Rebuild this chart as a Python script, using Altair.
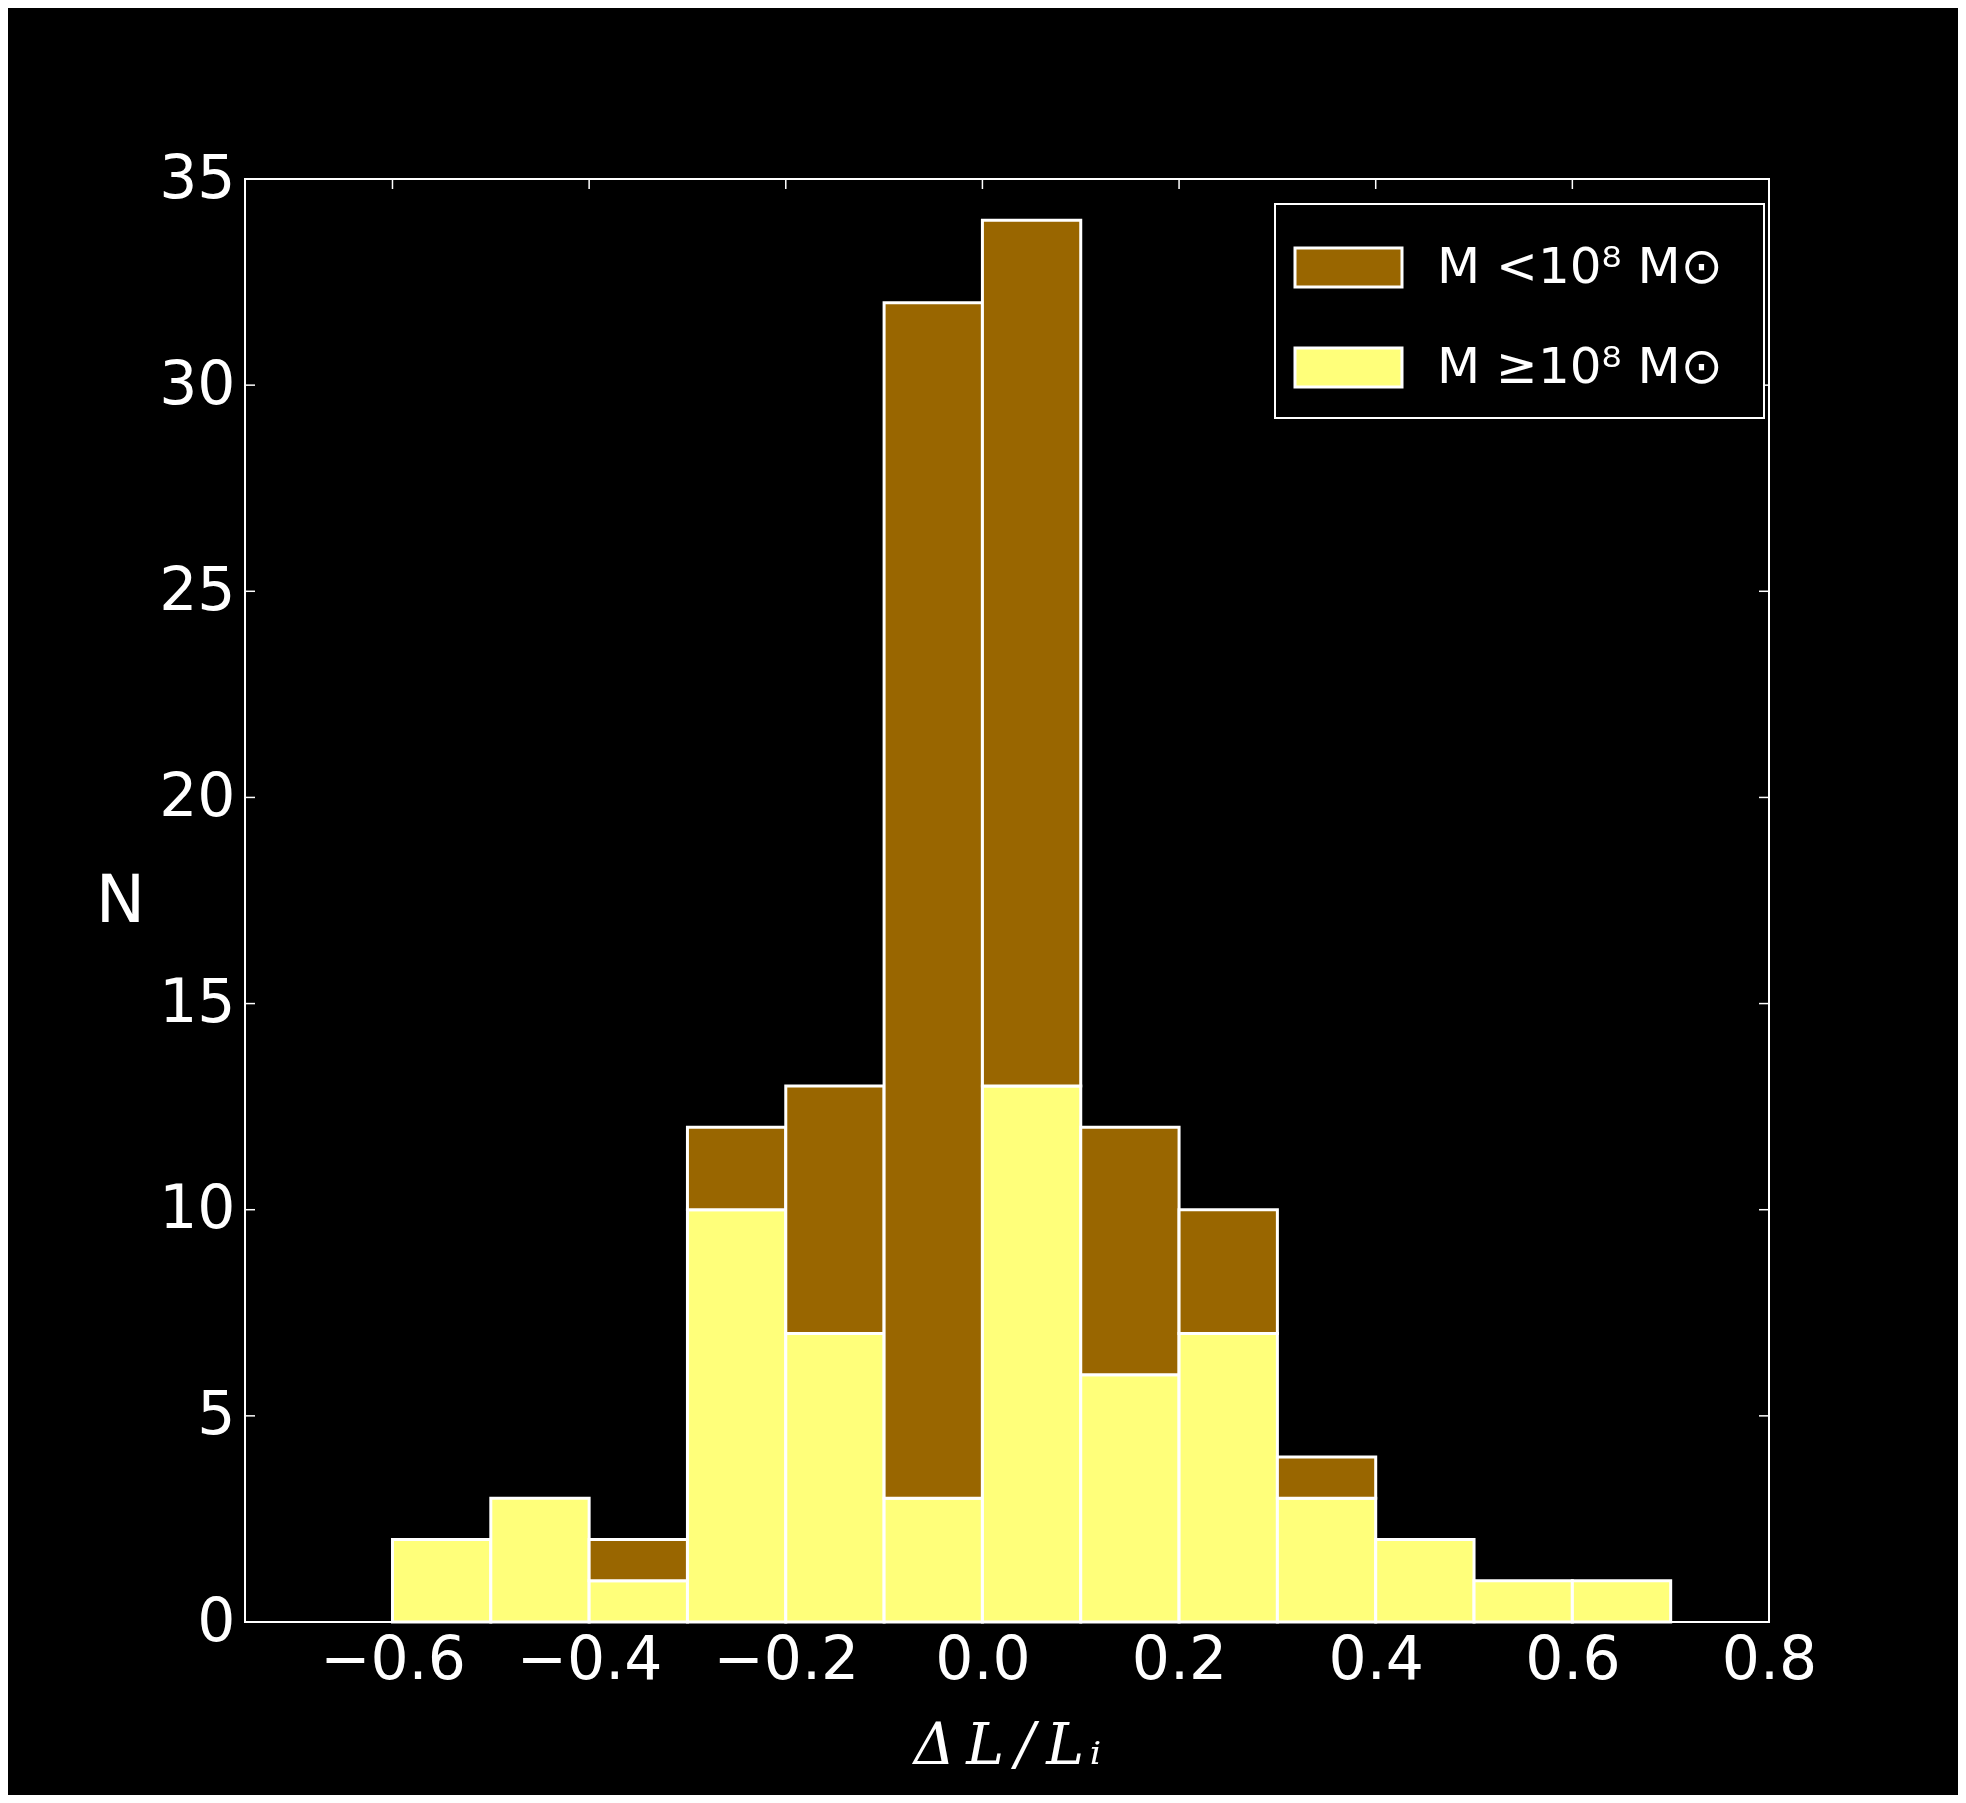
import altair as alt
import pandas as pd

# ---- data ----
bin_left = [-0.6, -0.5, -0.4, -0.3, -0.2, -0.1, 0.0, 0.1, 0.2, 0.3, 0.4, 0.5, 0.6]
bin_width = 0.1
high_mass = [2, 3, 1, 10, 7, 3, 13, 6, 7, 3, 2, 1, 1]      # M >= 1e8 Msun (yellow, bottom)
low_mass = [0, 0, 1, 2, 6, 29, 21, 6, 3, 1, 0, 0, 0]       # M < 1e8 Msun (brown, stacked)
x_ticks = [-0.6, -0.4, -0.2, 0.0, 0.2, 0.4, 0.6, 0.8]
y_ticks = [0, 5, 10, 15, 20, 25, 30, 35]

label_lo = "M <10⁸  M⊙"
label_hi = "M ≥10⁸  M⊙"
color_lo = "#996600"
color_hi = "#ffff7a"
x_title = "Δ\u2009L\u2009/\u2009L\u200aᵢ"
y_title = "N"

W, H = 1524, 1443

rows = []
for b, h, l in zip(bin_left, high_mass, low_mass):
    x0 = round(b, 2)
    x1 = round(b + bin_width, 2)
    if h > 0:
        rows.append(dict(x0=x0, x1=x1, y0=0, y1=h, grp=label_hi))
    if l > 0:
        rows.append(dict(x0=x0, x1=x1, y0=h, y1=h + l, grp=label_lo))
bars_df = pd.DataFrame(rows)

xscale = alt.Scale(domain=[-0.75, 0.8], nice=False, zero=False)
yscale = alt.Scale(domain=[0, 35], nice=False, zero=False)

x_axis = alt.Axis(values=x_ticks, format=".1f", ticks=False, domain=False, grid=False,
                  labelPadding=9, labelFontSize=60, labelFont="DejaVu Sans",
                  labelColor="white", labelFlush=False,
                  title=x_title, titleFont="DejaVu Serif", titleFontStyle="italic",
                  titleFontWeight="normal", titleFontSize=57, titleColor="white",
                  titleX=W / 2, titleY=141, titleBaseline="alphabetic", titleAlign="center")
y_axis = alt.Axis(values=y_ticks, ticks=False, domain=False, grid=False,
                  labelPadding=10, labelFontSize=60, labelFont="DejaVu Sans",
                  labelColor="white", labelFlush=False,
                  title=y_title, titleFont="DejaVu Sans", titleFontWeight="normal",
                  titleFontSize=66, titleColor="white", titleAngle=0,
                  titleX=-125, titleY=722, titleAlign="center", titleBaseline="middle")

bars = alt.Chart(bars_df).mark_bar(stroke="white", strokeWidth=3, opacity=1).encode(
    x=alt.X("x0:Q", scale=xscale, axis=x_axis, title=x_title),
    x2="x1:Q",
    y=alt.Y("y0:Q", scale=yscale, axis=y_axis, title=y_title),
    y2="y1:Q",
    color=alt.Color("grp:N",
                    scale=alt.Scale(domain=[label_lo, label_hi], range=[color_lo, color_hi]),
                    legend=alt.Legend(title=None, orient="none", legendX=1030, legendY=25,
                                      symbolType="M-1.446,-0.527L1.446,-0.527L1.446,0.527L-1.446,0.527Z",
                                      symbolSize=5476, symbolStrokeColor="white",
                                      symbolStrokeWidth=3, symbolOpacity=1,
                                      symbolOffset=10, labelOffset=50,
                                      labelFont="DejaVu Sans", labelFontSize=50,
                                      labelColor="white", labelLimit=600,
                                      rowPadding=36, padding=25,
                                      strokeColor="white", fillColor="black")),
)

xt = pd.DataFrame({"v": x_ticks})
yt = pd.DataFrame({"v": y_ticks})
tick_style = dict(color="white", strokeWidth=1.5)

xb = alt.Chart(xt).mark_rule(**tick_style).encode(
    x=alt.X("v:Q", scale=xscale, axis=x_axis, title=x_title), y=alt.value(H), y2=alt.value(H - 10))
xtop = alt.Chart(xt).mark_rule(**tick_style).encode(
    x=alt.X("v:Q", scale=xscale, axis=x_axis, title=x_title), y=alt.value(0), y2=alt.value(10))
yl = alt.Chart(yt).mark_rule(**tick_style).encode(
    y=alt.Y("v:Q", scale=yscale, axis=y_axis, title=y_title), x=alt.value(0), x2=alt.value(10))
yr = alt.Chart(yt).mark_rule(**tick_style).encode(
    y=alt.Y("v:Q", scale=yscale, axis=y_axis, title=y_title), x=alt.value(W), x2=alt.value(W - 10))

chart = alt.layer(bars, xb, xtop, yl, yr).properties(
    width=W, height=H,
    autosize=alt.AutoSizeParams(type="none"),
    padding={"left": 237, "top": 171, "right": 189, "bottom": 173},
    background="black",
).configure_view(
    stroke="white", strokeWidth=2, fill="black"
).configure_legend(
    strokeWidth=2
)

chart.save("out.html", embed_options={"renderer": "svg", "actions": False})
